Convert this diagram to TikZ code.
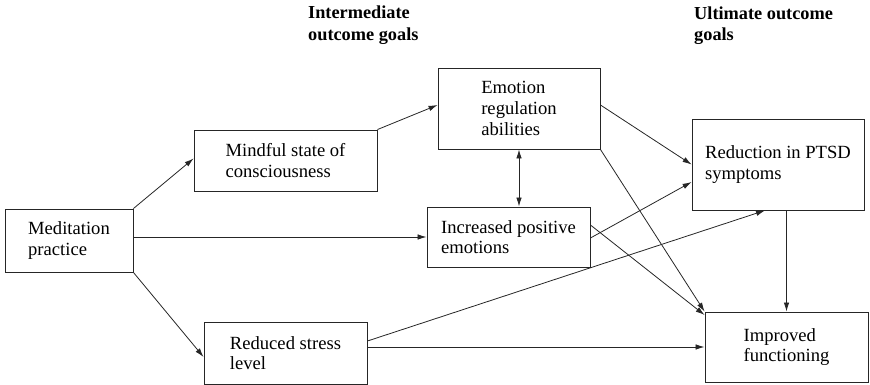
\documentclass[tikz,border=0pt]{standalone}
\usepackage{fontspec}
\setmainfont{Liberation Serif}
\usepackage{tikz}
\usetikzlibrary{arrows.meta, calc}

\begin{document}
\begin{tikzpicture}[x=1pt, y=-1pt, >={Latex[length=9pt,width=5.5pt]}]
        \tikzstyle{box_style} = [rectangle, draw=black!85, line width=0.9pt, inner sep=0pt, align=left, font=\fontsize{18.6}{20.7}\selectfont]
        \tikzstyle{head_style} = [inner sep=0pt, align=left, anchor=north west, font=\fontsize{18.3}{21.5}\selectfont\bfseries]
        \tikzstyle{arrow_path} = [line width=0.8pt, ->, draw=black!85]

        \useasboundingbox (0,0) rectangle (870,385);

        % Column headings
        \node (head_mid) [head_style] at (308,6) {Intermediate\\outcome goals};
        \node (head_end) [head_style] at (694,6.5) {Ultimate outcome\\goals};

        % Starting point
        \node (med) [box_style, minimum width=128pt, minimum height=63pt] at (69,240.5) {Meditation\\practice};

        % Intermediate outcomes
        \node (mind) [box_style, minimum width=183pt, minimum height=61pt] at (285.5,160.5) {Mindful state of\\consciousness};
        \node (stress) [box_style, minimum width=163pt, minimum height=62pt] at (285.5,353) {Reduced stress\\level};
        \node (emo) [box_style, minimum width=162pt, minimum height=81pt] at (519,108.5) {Emotion\\regulation\\abilities};
        \node (pos) [box_style, minimum width=163pt, minimum height=60pt] at (508.5,237) {Increased positive\\emotions};

        % Ultimate outcomes
        \node (ptsd) [box_style, minimum width=172pt, minimum height=91pt] at (778,164.5) {Reduction in PTSD\\symptoms};
        \node (impr) [box_style, minimum width=163pt, minimum height=70pt] at (786.5,347) {Improved\\functioning};

        % Arrows from meditation
        \draw [arrow_path] (med.north east) -- ([yshift=2pt]mind.west);
        \draw [arrow_path] (pos.west -| med.east) -- (pos.west);
        \draw [arrow_path] (med.south east) -- ([yshift=-4pt]stress.west);

        % Arrows between intermediate outcomes
        \draw [arrow_path] (mind.north east) -- ([yshift=3.5pt]emo.west);
        \draw [arrow_path, <->] (emo.south) -- (emo.south |- pos.north);

        % Arrows to ultimate outcomes
        \draw [arrow_path] ([yshift=3.5pt]emo.east) -- (ptsd.west);
        \draw [arrow_path] (emo.south east) -- (impr.north west);
        \draw [arrow_path] ([yshift=-1pt]pos.east) -- ([yshift=-17.5pt]ptsd.west);
        \draw [arrow_path] ([yshift=12pt]pos.east) -- ([yshift=32pt]impr.west);
        \draw [arrow_path] ([yshift=12pt]stress.east) -- ([xshift=-13pt]ptsd.south);
        \draw [arrow_path] (impr.west -| stress.east) -- (impr.west);
        \draw [arrow_path] (impr.north |- ptsd.south) -- (impr.north);
    \end{tikzpicture}
\end{document}
